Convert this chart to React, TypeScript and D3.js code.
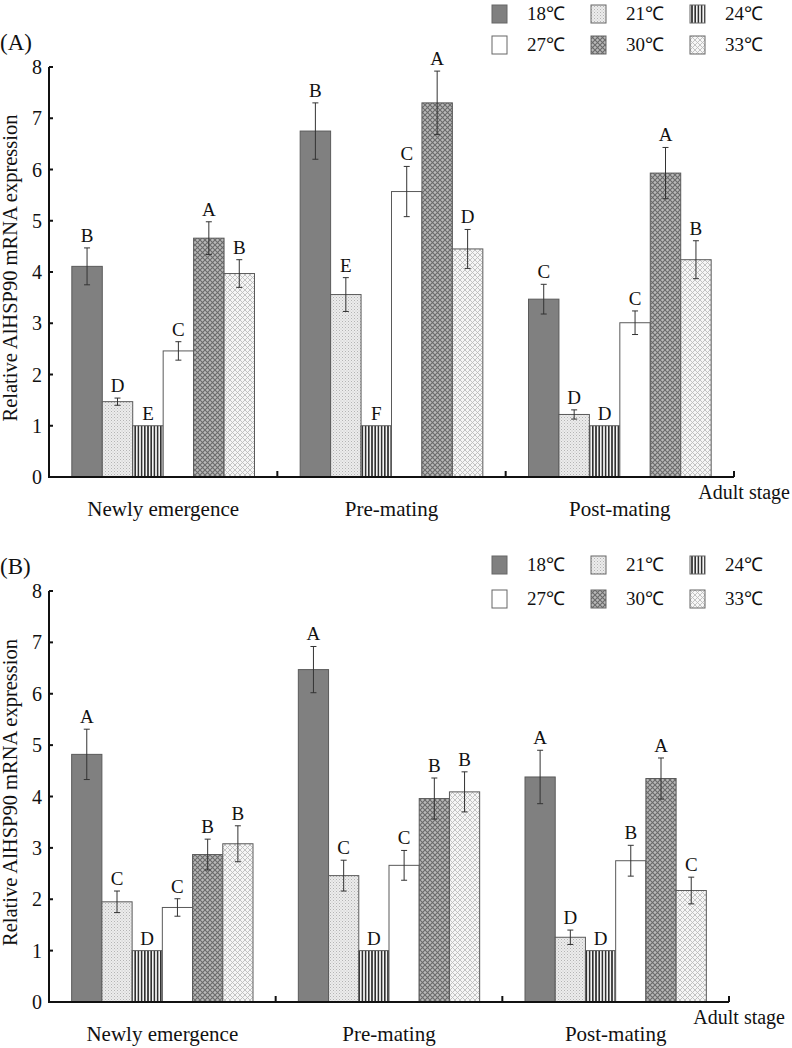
import React from "react";
import * as d3 from "d3";

const stages = ["Newly emergence", "Pre-mating", "Post-mating"];
const temps = ["18℃", "21℃", "24℃", "27℃", "30℃", "33℃"];
const yTicks = [0, 1, 2, 3, 4, 5, 6, 7, 8];

// Panel A: rows = stages, columns = temperatures
const meansA = [
  [4.11, 1.47, 1.0, 2.46, 4.66, 3.97],
  [6.75, 3.56, 1.0, 5.57, 7.3, 4.45],
  [3.47, 1.22, 1.0, 3.01, 5.93, 4.24],
];
const errA = [
  [0.36, 0.07, 0, 0.18, 0.32, 0.27],
  [0.55, 0.33, 0, 0.49, 0.62, 0.38],
  [0.29, 0.09, 0, 0.23, 0.5, 0.37],
];
const lettersA = [
  ["B", "D", "E", "C", "A", "B"],
  ["B", "E", "F", "C", "A", "D"],
  ["C", "D", "D", "C", "A", "B"],
];

// Panel B
const meansB = [
  [4.82, 1.95, 1.0, 1.84, 2.87, 3.08],
  [6.47, 2.46, 1.0, 2.66, 3.96, 4.09],
  [4.38, 1.26, 1.0, 2.75, 4.35, 2.17],
];
const errB = [
  [0.49, 0.21, 0, 0.17, 0.3, 0.35],
  [0.45, 0.3, 0, 0.29, 0.4, 0.39],
  [0.52, 0.14, 0, 0.3, 0.4, 0.26],
];
const lettersB = [
  ["A", "C", "D", "C", "B", "B"],
  ["A", "C", "D", "C", "B", "B"],
  ["A", "D", "D", "B", "A", "C"],
];

const fills = ["#808080", "url(#p21)", "url(#p24)", "#ffffff", "url(#p30)", "url(#p33)"];
const FONT = "'Liberation Serif', 'Times New Roman', serif";

type PanelProps = {
  label: string;
  top: number; // y of value 8
  bottom: number; // y of value 0
  xEnd: number;
  means: number[][];
  errs: number[][];
  letters: string[][];
  legendY: number;
  legendGap: number;
};

function Panel({ label, top, bottom, xEnd, means, errs, letters, legendY, legendGap }: PanelProps) {
  const xStart = 49;
  const y = d3.scaleLinear().domain([0, 8]).range([bottom, top]);
  const x0 = d3.scaleBand<string>().domain(stages).range([xStart, xEnd]).paddingInner(0.2).paddingOuter(0.1);
  const x1 = d3.scaleBand<string>().domain(temps).range([0, x0.bandwidth()]);
  const step = x0.step();
  const boundaries = d3.range(1, stages.length + 1).map((i) => xStart + i * step);

  return (
    <g>
      <text x={0} y={top - 17} fontFamily={FONT} fontSize={23} fill="#111">
        {label}
      </text>
      {/* legend */}
      {temps.map((t, i) => {
        const col = i % 3;
        const row = Math.floor(i / 3);
        const lx = 492 + col * 99;
        const ly = legendY + row * legendGap;
        return (
          <g key={t}>
            <rect x={lx} y={ly - 9} width={15} height={18} fill={fills[i]} stroke="#666" strokeWidth={1} />
            <text x={lx + 35} y={ly + 6} fontFamily={FONT} fontSize={19} fill="#111">
              {t}
            </text>
          </g>
        );
      })}
      {/* bars */}
      {stages.map((s, si) => (
        <g key={s}>
          {temps.map((t, ti) => {
            const v = means[si][ti];
            const e = errs[si][ti];
            const bx = (x0(s) as number) + (x1(t) as number);
            const bw = x1.bandwidth();
            const cx = bx + bw / 2;
            const topVal = v + e;
            return (
              <g key={t}>
                <rect x={bx} y={y(v)} width={bw} height={y(0) - y(v)} fill={fills[ti]} stroke="#5a5a5a" strokeWidth={1} />
                {e > 0 && (
                  <g stroke="#333" strokeWidth={1}>
                    <line x1={cx} x2={cx} y1={y(v - e)} y2={y(v + e)} />
                    <line x1={cx - 3} x2={cx + 3} y1={y(v + e)} y2={y(v + e)} />
                    <line x1={cx - 3} x2={cx + 3} y1={y(v - e)} y2={y(v - e)} />
                  </g>
                )}
                <text x={cx} y={y(topVal) - 6} textAnchor="middle" fontFamily={FONT} fontSize={19} fill="#111">
                  {letters[si][ti]}
                </text>
              </g>
            );
          })}
          <text x={(x0(s) as number) + x0.bandwidth() / 2} y={bottom + 39} textAnchor="middle" fontFamily={FONT} fontSize={21} fill="#111">
            {s}
          </text>
        </g>
      ))}
      {/* axes */}
      <line x1={xStart} x2={xStart} y1={top} y2={bottom} stroke="#111" strokeWidth={2} />
      <line x1={xStart - 1} x2={xEnd} y1={bottom} y2={bottom} stroke="#111" strokeWidth={2} />
      {yTicks.map((t) => (
        <g key={t}>
          <line x1={xStart} x2={xStart + 4} y1={y(t)} y2={y(t)} stroke="#111" strokeWidth={2} />
          <text x={42} y={y(t) + 7} textAnchor="end" fontFamily={FONT} fontSize={20} fill="#111">
            {t}
          </text>
        </g>
      ))}
      {boundaries.map((bx, i) => (
        <line key={i} x1={bx} x2={bx} y1={bottom} y2={bottom - 6} stroke="#111" strokeWidth={2} />
      ))}
      <text x={xEnd + 56} y={bottom + 22} textAnchor="end" fontFamily={FONT} fontSize={20} fill="#111">
        Adult stage
      </text>
      <text
        transform={`translate(17, ${(top + bottom) / 2 - 4}) rotate(-90)`}
        textAnchor="middle"
        fontFamily={FONT}
        fontSize={20.5}
        fill="#111"
      >
        Relative AlHSP90 mRNA expression
      </text>
    </g>
  );
}

export default function App() {
  return (
    <svg
      width={792}
      height={1048}
      viewBox="0 0 792 1048"
      style={{ position: "absolute", left: 0, top: 0, background: "#fff" }}
    >
      <defs>
        <pattern id="p21" width={3} height={3} patternUnits="userSpaceOnUse">
          <rect width={3} height={3} fill="#ececec" />
          <rect x={0} y={0} width={1} height={1} fill="#b4b4b4" />
          <rect x={1.5} y={1.5} width={1} height={1} fill="#c4c4c4" />
        </pattern>
        <pattern id="p24" width={3.2} height={4} patternUnits="userSpaceOnUse">
          <rect width={3.2} height={4} fill="#f4f4f4" />
          <rect x={0} y={0} width={1.6} height={4} fill="#303030" />
        </pattern>
        <pattern id="p30" width={5} height={5} patternUnits="userSpaceOnUse">
          <rect width={5} height={5} fill="#b8b8b8" />
          <path d="M0,0 L5,5 M5,0 L0,5" stroke="#6a6a6a" strokeWidth={1.1} />
        </pattern>
        <pattern id="p33" width={5} height={5} patternUnits="userSpaceOnUse">
          <rect width={5} height={5} fill="#f6f6f6" />
          <path d="M0,0 L5,5 M5,0 L0,5" stroke="#bdbdbd" strokeWidth={0.9} />
        </pattern>
      </defs>
      <Panel
        label="(A)"
        top={67}
        bottom={477}
        xEnd={734}
        means={meansA}
        errs={errA}
        letters={lettersA}
        legendY={14}
        legendGap={31}
      />
      <Panel
        label="(B)"
        top={591}
        bottom={1002}
        xEnd={729}
        means={meansB}
        errs={errB}
        letters={lettersB}
        legendY={565}
        legendGap={34}
      />
    </svg>
  );
}
